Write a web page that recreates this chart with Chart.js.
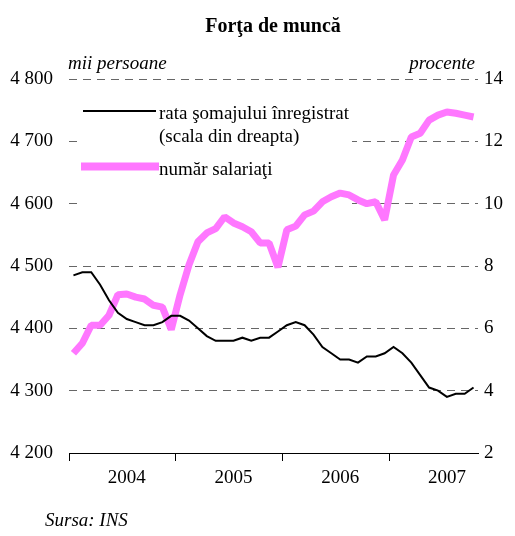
<!DOCTYPE html>
<html>
<head>
<meta charset="utf-8">
<script src="https://cdn.jsdelivr.net/npm/chart.js@4.4.0/dist/chart.umd.min.js"></script>
<style>
  html, body { margin: 0; padding: 0; background: #fff; }
  #c { display: block; }
</style>
</head>
<body>
<canvas id="c" width="515" height="536"></canvas>
<script>
// Monthly data, Jan 2004 - Oct 2007
const months = [
    '2004-01','2004-02','2004-03','2004-04','2004-05','2004-06','2004-07','2004-08','2004-09','2004-10','2004-11','2004-12',
    '2005-01','2005-02','2005-03','2005-04','2005-05','2005-06','2005-07','2005-08','2005-09','2005-10','2005-11','2005-12',
    '2006-01','2006-02','2006-03','2006-04','2006-05','2006-06','2006-07','2006-08','2006-09','2006-10','2006-11','2006-12',
    '2007-01','2007-02','2007-03','2007-04','2007-05','2007-06','2007-07','2007-08','2007-09','2007-10'
];

// rata somajului inregistrat (%), right scale
const unemploymentRate = [
    7.7, 7.8, 7.8, 7.4, 6.9, 6.5, 6.3, 6.2, 6.1, 6.1, 6.2, 6.4,
    6.4, 6.25, 6.0, 5.75, 5.6, 5.6, 5.6, 5.7, 5.6, 5.7, 5.7, 5.9,
    6.1, 6.2, 6.1, 5.8, 5.4, 5.2, 5.0, 5.0, 4.9, 5.1, 5.1, 5.2,
    5.4, 5.2, 4.9, 4.5, 4.1, 4.0, 3.8, 3.9, 3.9, 4.1
];

// numar salariati (mii persoane), left scale
const employees = [
    4360, 4376, 4405, 4405, 4421, 4454, 4455, 4450, 4447, 4437, 4434, 4398,
    4454, 4502, 4539, 4553, 4560, 4579, 4569, 4563, 4555, 4537, 4537, 4498,
    4558, 4564, 4582, 4588, 4603, 4611, 4617, 4614, 4606, 4600, 4603, 4574,
    4646, 4670, 4707, 4713, 4734, 4742, 4747, 4745, 4742, 4739
];

const leftTicks = [4200, 4300, 4400, 4500, 4600, 4700, 4800];
const rightTicks = [2, 4, 6, 8, 10, 12, 14];

const serif = '"Liberation Serif", "Times New Roman", serif';
const pink = '#ff77ff';

// Texts drawn around the plot, plus the legend box (under the lines)
const decorations = {
    id: 'decorations',
    beforeDatasetsDraw(chart) {
        const ctx = chart.ctx;
        ctx.save();
        // legend box hides the gridlines behind it
        ctx.fillStyle = '#fff';
        ctx.fillRect(77, 92, 275, 128);

        // legend samples
        ctx.strokeStyle = '#000';
        ctx.lineWidth = 2;
        ctx.beginPath();
        ctx.moveTo(83, 111);
        ctx.lineTo(156, 111);
        ctx.stroke();

        ctx.fillStyle = pink;
        ctx.fillRect(81, 162.5, 78, 8);

        ctx.fillStyle = '#000';
        ctx.font = '19px ' + serif;
        ctx.textAlign = 'left';
        ctx.textBaseline = 'alphabetic';
        ctx.fillText('rata şomajului înregistrat', 159, 119);
        ctx.fillText('(scala din dreapta)', 159, 142);
        ctx.fillText('număr salariaţi', 159, 175);
        ctx.restore();
    },
    afterDraw(chart) {
        const ctx = chart.ctx;
        ctx.save();
        ctx.fillStyle = '#000';
        ctx.textBaseline = 'alphabetic';

        ctx.font = 'bold 20px ' + serif;
        ctx.textAlign = 'center';
        ctx.fillText('Forţa de muncă', 273, 32);

        ctx.font = 'italic 19px ' + serif;
        ctx.textAlign = 'left';
        ctx.fillText('mii persoane', 68, 69);
        ctx.fillText('Sursa: INS', 45, 526);
        ctx.textAlign = 'right';
        ctx.fillText('procente', 475, 69);
        ctx.restore();
    }
};

const ctx = document.getElementById('c').getContext('2d');
const chart = new Chart(ctx, {
    type: 'line',
    data: {
        labels: months,
        datasets: [{
            label: 'rata şomajului înregistrat (scala din dreapta)',
            data: unemploymentRate,
            yAxisID: 'y1',
            borderColor: '#000',
            borderWidth: 2,
            pointRadius: 0,
            tension: 0,
            order: 0
        }, {
            label: 'număr salariaţi',
            data: employees,
            yAxisID: 'y',
            borderColor: pink,
            borderWidth: 7,
            borderJoinStyle: 'bevel',
            pointRadius: 0,
            tension: 0,
            order: 1
        }]
    },
    options: {
        responsive: false,
        animation: false,
        layout: { padding: { top: 79, left: 0, right: 0, bottom: 0 } },
        plugins: {
            legend: { display: false },
            title: { display: false },
            tooltip: { enabled: false }
        },
        scales: {
            x: {
                offset: true,
                afterFit(s) { s.height = 83; },
                grid: {
                    offset: true,
                    drawOnChartArea: false,
                    tickLength: 8,
                    color: c => (c.index % 12 === 0 ? '#000' : 'rgba(0,0,0,0)')
                },
                border: { display: true, color: '#000', width: 1 },
                ticks: {
                    autoSkip: false,
                    maxRotation: 0,
                    padding: 6,
                    color: '#000',
                    font: { family: serif, size: 19 },
                    callback: (v, i) => (i % 12 === 6 ? months[i].slice(0, 4) : '')
                }
            },
            y: {
                position: 'left',
                min: 4200,
                max: 4800,
                afterFit(s) { s.width = 69; },
                afterBuildTicks(s) { s.ticks = leftTicks.map(v => ({ value: v })); },
                grid: { color: '#666', lineWidth: 1, drawTicks: false },
                border: { display: false, dash: [8, 6] },
                ticks: {
                    padding: 16,
                    color: '#000',
                    font: { family: serif, size: 19 },
                    callback: v => String(v).replace(/(\d)(\d{3})$/, '$1 $2')
                }
            },
            y1: {
                position: 'right',
                min: 2,
                max: 14,
                afterFit(s) { s.width = 37; },
                afterBuildTicks(s) { s.ticks = rightTicks.map(v => ({ value: v })); },
                grid: { display: false, drawTicks: false },
                border: { display: false },
                ticks: {
                    padding: 6,
                    color: '#000',
                    font: { family: serif, size: 19 }
                }
            }
        }
    },
    plugins: [decorations]
});
</script>
</body>
</html>
